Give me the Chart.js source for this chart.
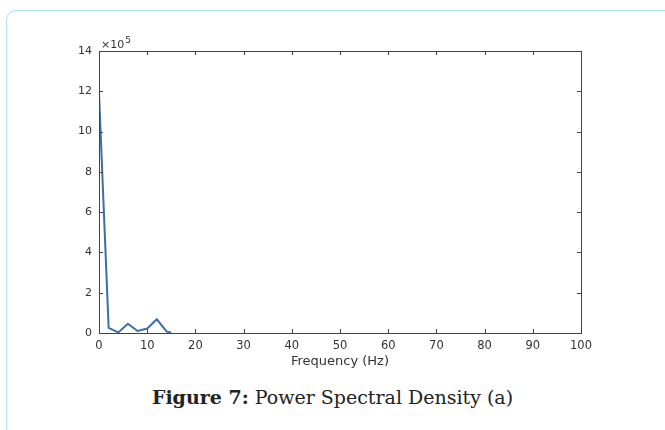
<!DOCTYPE html>
<html>
<head>
<meta charset="utf-8">
<script src="https://cdn.jsdelivr.net/npm/chart.js@4"></script>
<style>
  html, body { margin: 0; padding: 0; background: #fff; }
  body { width: 665px; height: 430px; position: relative; overflow: hidden; }
  .card {
    position: absolute; left: 6px; top: 10px; width: 680px; height: 460px;
    border: 1.5px solid #a9e3ec; border-radius: 10px; box-sizing: border-box;
  }
  .wrap { position: absolute; left: 0; top: 0; width: 665px; height: 380px; }
  .caption {
    position: absolute; left: 0; width: 665px; top: 386px; text-align: center;
    font-family: "DejaVu Serif", serif; font-size: 19px; color: #222;
  }
</style>
</head>
<body>
<div class="card"></div>
<div class="wrap"><canvas id="psd"></canvas></div>
<div class="caption"><b>Figure 7:</b> Power Spectral Density (a)</div>
<script>
// frequency (Hz) and power
const FREQ = [0, 2, 4, 6, 8, 10, 12, 14, 15];
const POWER = [1190000, 25000, 3000, 46000, 10000, 22000, 68000, 8000, 1000];
const X_TICKS = [0, 10, 20, 30, 40, 50, 60, 70, 80, 90, 100];
const Y_TICKS = [0, 2, 4, 6, 8, 10, 12, 14];

const FRAME = "#444";
const LINE = "#3d6ea6";
const FONT = "'DejaVu Sans', Arial";

const frame = {
  id: "frame",
  afterDraw(chart) {
    const { ctx, chartArea: a, scales } = chart;
    ctx.save();
    ctx.strokeStyle = FRAME;
    ctx.lineWidth = 1;
    ctx.strokeRect(a.left + 0.5, a.top + 0.5, a.right - a.left, a.bottom - a.top);
    ctx.beginPath();
    X_TICKS.forEach(v => {
      const x = Math.round(scales.x.getPixelForValue(v)) + 0.5;
      ctx.moveTo(x, a.bottom); ctx.lineTo(x, a.bottom - 4);
      ctx.moveTo(x, a.top); ctx.lineTo(x, a.top + 4);
    });
    Y_TICKS.forEach(v => {
      const y = Math.round(scales.y.getPixelForValue(v * 1e5)) + 0.5;
      ctx.moveTo(a.left, y); ctx.lineTo(a.left + 4, y);
      ctx.moveTo(a.right, y); ctx.lineTo(a.right - 4, y);
    });
    ctx.stroke();
    // exponent label
    ctx.fillStyle = "#333";
    ctx.textBaseline = "alphabetic";
    ctx.font = "11px " + FONT;
    ctx.fillText("\u00d710", a.left + 2, a.top - 3);
    const w = ctx.measureText("\u00d710").width;
    ctx.font = "9px " + FONT;
    ctx.fillText("5", a.left + 2 + w + 1, a.top - 8);
    ctx.restore();
  }
};

new Chart(document.getElementById("psd"), {
  type: "line",
  data: {
    datasets: [{
      data: FREQ.map((f, i) => ({ x: f, y: POWER[i] })),
      borderColor: LINE, borderWidth: 2, pointRadius: 0, tension: 0,
    }],
  },
  options: {
    responsive: true, maintainAspectRatio: false, animation: false,
    layout: { padding: { left: 0, top: 51, right: 84, bottom: 7 } },
    plugins: { legend: { display: false }, tooltip: { enabled: false } },
    scales: {
      x: {
        type: "linear", min: 0, max: 100,
        afterBuildTicks: s => { s.ticks = X_TICKS.map(v => ({ value: v })); },
        afterFit: s => { s.height = 40; },
        grid: { display: false, drawTicks: false },
        border: { display: false },
        ticks: { padding: 6, color: "#333", font: { family: FONT, size: 11.5 }, maxRotation: 0 },
        title: {
          display: true, text: "Frequency (Hz)", color: "#333",
          font: { family: FONT, size: 13 }, padding: { top: 0, bottom: 4 },
        },
      },
      y: {
        min: 0, max: 1400000,
        afterBuildTicks: s => { s.ticks = Y_TICKS.map(v => ({ value: v * 1e5 })); },
        afterFit: s => { s.width = 99; },
        grid: { display: false, drawTicks: false },
        border: { display: false },
        ticks: {
          padding: 7, color: "#333", font: { family: FONT, size: 11 },
          callback: v => String(v / 1e5),
        },
      },
    },
  },
  plugins: [frame],
});
</script>
</body>
</html>
